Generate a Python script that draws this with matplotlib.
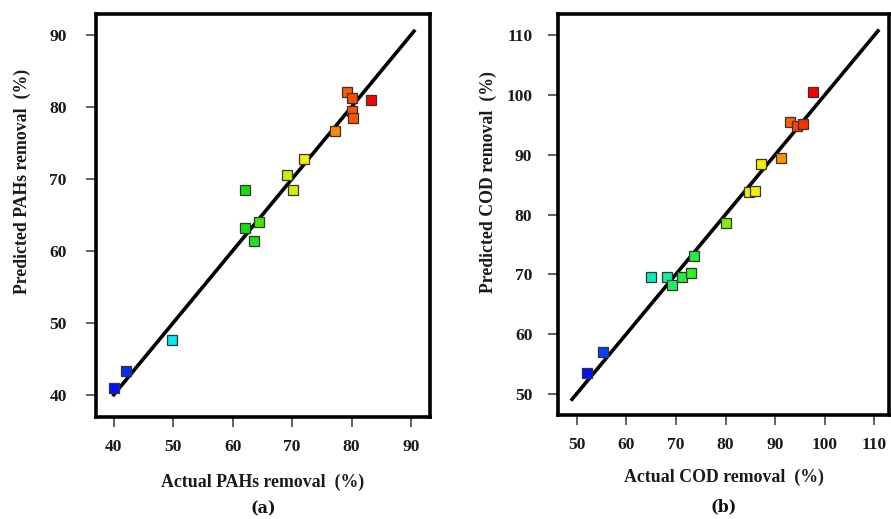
import matplotlib
matplotlib.use("Agg")
import matplotlib.pyplot as plt

# ---- Panel (a): PAHs removal ----
pah_actual = [79.2, 80.0, 83.2, 80.0, 80.2, 77.2, 72.0, 69.2, 70.2, 62.0, 64.4, 62.0, 63.6, 49.85, 42.1, 40.1]
pah_pred   = [82.0, 81.25, 81.0, 79.4, 78.5, 76.6, 72.8, 70.5, 68.4, 68.4, 64.0, 63.2, 61.4, 47.6, 43.3, 41.0]
pah_colors = ["#ff5a00", "#ff4a00", "#ff0000", "#ff5000", "#ff5500", "#ff8c00", "#f0f000", "#c8f000",
              "#d8f000", "#10e010", "#40e800", "#10e010", "#20e020", "#00e8f0", "#0030ff", "#0010ff"]
pah_line = [39.8, 90.7]
pah_ticks = [40, 50, 60, 70, 80, 90]

# ---- Panel (b): COD removal ----
cod_actual = [97.6, 93.0, 94.4, 95.6, 91.1, 87.1, 84.7, 85.9, 80.0, 73.65, 65.06, 68.2, 69.1, 71.2, 73.0, 55.2, 52.1]
cod_pred   = [100.5, 95.5, 94.8, 95.2, 89.5, 88.5, 83.8, 84.0, 78.5, 73.1, 69.6, 69.6, 68.2, 69.6, 70.2, 57.0, 53.4]
cod_colors = ["#ff0000", "#ff6000", "#ff4000", "#ff3000", "#ff9000", "#f5f000", "#e8f000", "#f0f000",
              "#80f000", "#20f040", "#00f0c0", "#10f0a0", "#20f060", "#20f040", "#30f020", "#0040ff", "#0010ff"]
cod_line = [48.8, 111.0]
cod_ticks = [50, 60, 70, 80, 90, 100, 110]

fig = plt.figure(figsize=(8.91, 5.19), dpi=100)
serif = "Liberation Serif"

def panel(rect, xs, ys, cols, line, ticks, xlim, ylim, xlabel, ylabel, tag,
          xlab_y, ylab_x, ylab_y, ypad):
    ax = fig.add_axes(rect)
    ax.plot(line, line, color="black", lw=2.6, zorder=2, solid_capstyle="butt")
    for x, y, c in zip(xs, ys, cols):
        ax.plot([x], [y], marker="s", ms=6.6, mfc=c, mec="#333333", mew=0.9, ls="none", zorder=3)
    ax.set_xlim(*xlim)
    ax.set_ylim(*ylim)
    ax.set_xticks(ticks)
    ax.set_yticks(ticks)
    for s in ax.spines.values():
        s.set_linewidth(2.6)
        s.set_color("black")
    ax.tick_params(axis="both", direction="out", length=7, width=1.3, color="#555555",
                   labelsize=12.6, labelcolor="#1a1a1a")
    ax.tick_params(axis="x", pad=9)
    ax.tick_params(axis="y", pad=ypad)
    for lab in ax.get_xticklabels() + ax.get_yticklabels():
        lab.set_fontfamily(serif)
        lab.set_fontweight("bold")
    ax.set_xlabel(xlabel, fontfamily=serif, fontweight="bold", fontsize=12.8, color="#1a1a1a", va="center")
    ax.xaxis.set_label_coords(0.5, xlab_y)
    ax.set_ylabel(ylabel, fontfamily=serif, fontweight="bold", fontsize=12.8, color="#1a1a1a", va="center")
    ax.yaxis.set_label_coords(ylab_x, ylab_y)
    ax.text(0.5, -0.228, tag, transform=ax.transAxes, ha="center", va="center",
            fontfamily="DejaVu Serif", fontweight="bold", fontsize=11.5, color="#111111")
    return ax

panel([0.1077, 0.1965, 0.3749, 0.7765], pah_actual, pah_pred, pah_colors, pah_line, pah_ticks,
      (37.0, 93.2), (36.9, 92.9), "Actual PAHs removal  (%)", "Predicted PAHs removal  (%)", "(a)",
      -0.161, -0.2216, 0.585, 14)
panel([0.6263, 0.2004, 0.3715, 0.7726], cod_actual, cod_pred, cod_colors, cod_line, cod_ticks,
      (46.2, 113.0), (46.4, 113.6), "Actual COD removal  (%)", "Predicted COD removal  (%)", "(b)",
      -0.155, -0.211, 0.581, 11.5)

fig.savefig("out.png", dpi=100)
